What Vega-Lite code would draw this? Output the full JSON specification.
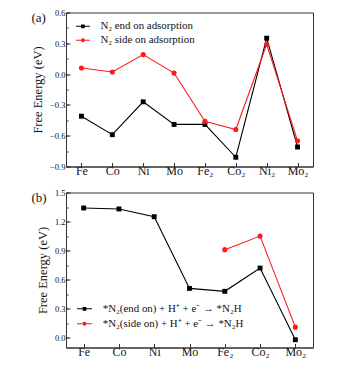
{
  "$schema": "https://vega.github.io/schema/vega-lite/v6.json",
  "padding": {"left": 30, "top": 7.5, "right": 10, "bottom": 5},
  "spacing": 10,
  "background": "white",
  "config": {
    "font": "Liberation Serif",
    "view": {"stroke": "#333333", "strokeWidth": 1},
    "axis": {"labelFont": "Liberation Serif", "titleFont": "Liberation Serif", "labelColor": "#111111", "titleColor": "#111111", "titleFontWeight": "normal", "domainColor": "#333333", "tickColor": "#333333", "domainWidth": 1, "tickWidth": 1},
    "legend": {"labelFont": "Liberation Serif", "labelColor": "#111111"}
  },
  "datasets": {
    "a": [
      {"metal": "Fe", "series": "N₂ end on adsorption", "energy": -0.41},
      {"metal": "Co", "series": "N₂ end on adsorption", "energy": -0.59},
      {"metal": "Ni", "series": "N₂ end on adsorption", "energy": -0.27},
      {"metal": "Mo", "series": "N₂ end on adsorption", "energy": -0.49},
      {"metal": "Fe₂", "series": "N₂ end on adsorption", "energy": -0.49},
      {"metal": "Co₂", "series": "N₂ end on adsorption", "energy": -0.81},
      {"metal": "Ni₂", "series": "N₂ end on adsorption", "energy": 0.35},
      {"metal": "Mo₂", "series": "N₂ end on adsorption", "energy": -0.71},
      {"metal": "Fe", "series": "N₂ side on adsorption", "energy": 0.06},
      {"metal": "Co", "series": "N₂ side on adsorption", "energy": 0.02},
      {"metal": "Ni", "series": "N₂ side on adsorption", "energy": 0.19},
      {"metal": "Mo", "series": "N₂ side on adsorption", "energy": 0.01},
      {"metal": "Fe₂", "series": "N₂ side on adsorption", "energy": -0.46},
      {"metal": "Co₂", "series": "N₂ side on adsorption", "energy": -0.54},
      {"metal": "Ni₂", "series": "N₂ side on adsorption", "energy": 0.29},
      {"metal": "Mo₂", "series": "N₂ side on adsorption", "energy": -0.65}
    ],
    "b": [
      {"metal": "Fe", "series": "*N₂(end on) + H⁺ + e⁻ → *N₂H", "energy": 1.34},
      {"metal": "Co", "series": "*N₂(end on) + H⁺ + e⁻ → *N₂H", "energy": 1.33},
      {"metal": "Ni", "series": "*N₂(end on) + H⁺ + e⁻ → *N₂H", "energy": 1.25},
      {"metal": "Mo", "series": "*N₂(end on) + H⁺ + e⁻ → *N₂H", "energy": 0.51},
      {"metal": "Fe₂", "series": "*N₂(end on) + H⁺ + e⁻ → *N₂H", "energy": 0.48},
      {"metal": "Co₂", "series": "*N₂(end on) + H⁺ + e⁻ → *N₂H", "energy": 0.72},
      {"metal": "Mo₂", "series": "*N₂(end on) + H⁺ + e⁻ → *N₂H", "energy": -0.02},
      {"metal": "Fe₂", "series": "*N₂(side on) + H⁺ + e⁻ → *N₂H", "energy": 0.91},
      {"metal": "Co₂", "series": "*N₂(side on) + H⁺ + e⁻ → *N₂H", "energy": 1.05},
      {"metal": "Mo₂", "series": "*N₂(side on) + H⁺ + e⁻ → *N₂H", "energy": 0.11}
    ]
  },
  "vconcat": [
    {
      "width": 247,
      "height": 154,
      "data": {"name": "a"},
      "encoding": {
        "y": {"field": "energy", "type": "quantitative", "scale": {"domain": [-0.9, 0.6], "nice": false, "zero": false},
          "axis": {"title": "Free Energy (eV)", "titleFontSize": 12.5, "labelFontSize": 8.5, "titlePadding": 5, "labelPadding": 3,
            "values": [-0.9, -0.75, -0.6, -0.45, -0.3, -0.15, 0, 0.15, 0.3, 0.45, 0.6],
            "labelExpr": "abs(round(datum.value*100) % 30) == 0 ? format(datum.value, '.1f') : ''",
            "tickSize": -2, "grid": true, "gridColor": "#333333", "gridDash": [4, 1000], "gridWidth": 1,
            "gridOpacity": {"condition": {"test": "abs(round(datum.value*100) % 30) == 0", "value": 1}, "value": 0}}},
        "color": {"field": "series", "type": "nominal", "scale": {"domain": ["N₂ end on adsorption", "N₂ side on adsorption"], "range": ["#000000", "#ff1a1a"]},
          "legend": {"title": null, "orient": "none", "legendX": 8.4, "legendY": 5.3, "padding": 0, "labelFontSize": 10.9, "labelOffset": 9, "rowPadding": 0, "symbolSize": 225,
            "encode": {"symbols": {"update": {
              "shape": [{"test": "indexof(datum.value, 'side') >= 0", "value": "M-0.93,0H0.93M0.19,0A0.19,0.19 0 1,1 -0.19,0A0.19,0.19 0 1,1 0.19,0Z"}, {"value": "M-0.93,0H0.93M-0.17,-0.17H0.17V0.17H-0.17Z"}],
              "fill": [{"test": "indexof(datum.value, 'side') >= 0", "value": "#ff1a1a"}, {"value": "#000000"}],
              "stroke": [{"test": "indexof(datum.value, 'side') >= 0", "value": "#ff1a1a"}, {"value": "#000000"}],
              "strokeWidth": {"value": 1.1},
              "opacity": {"value": 1}
            }}}}}
      },
      "layer": [
        {"mark": {"type": "line", "strokeWidth": 1.1},
          "encoding": {"x": {"field": "metal", "type": "ordinal", "sort": ["Fe", "Co", "Ni", "Mo", "Fe₂", "Co₂", "Ni₂", "Mo₂"], "scale": {"type": "point", "padding": 0.5},
            "axis": {"orient": "top", "title": "(a)", "domain": false, "ticks": false, "labels": false, "grid": false, "titleX": -35, "titleY": -1, "titleAlign": "left", "titleBaseline": "top", "titleAngle": 0, "titleFontSize": 13}}}},
        {"transform": [{"filter": "indexof(datum.series, 'end') >= 0"}], "mark": {"type": "square", "filled": true, "size": 24, "opacity": 1},
          "encoding": {"x": {"field": "metal", "type": "ordinal", "sort": ["Fe", "Co", "Ni", "Mo", "Fe₂", "Co₂", "Ni₂", "Mo₂"], "scale": {"type": "point", "padding": 0.5},
            "axis": {"orient": "bottom", "title": null, "labelAngle": 0, "labelFontSize": 12, "tickSize": -4, "labelPadding": 3, "grid": false}}}},
        {"transform": [{"filter": "indexof(datum.series, 'side') >= 0"}], "mark": {"type": "circle", "filled": true, "size": 26, "opacity": 1},
          "encoding": {"x": {"field": "metal", "type": "ordinal", "sort": ["Fe", "Co", "Ni", "Mo", "Fe₂", "Co₂", "Ni₂", "Mo₂"], "scale": {"type": "point", "padding": 0.5}, "axis": null}}}
      ],
      "resolve": {"axis": {"x": "independent"}}
    },
    {
      "width": 247,
      "height": 155,
      "data": {"name": "b"},
      "encoding": {
        "y": {"field": "energy", "type": "quantitative", "scale": {"domain": [-0.1, 1.5], "nice": false, "zero": false},
          "axis": {"title": "Free Energy (eV)", "titleFontSize": 12.5, "labelFontSize": 8.5, "titlePadding": 5, "labelPadding": 3,
            "values": [0, 0.15, 0.3, 0.45, 0.6, 0.75, 0.9, 1.05, 1.2, 1.35, 1.5],
            "labelExpr": "abs(round(datum.value*100) % 30) == 0 ? format(datum.value, '.1f') : ''",
            "tickSize": -2, "grid": true, "gridColor": "#333333", "gridDash": [4, 1000], "gridWidth": 1,
            "gridOpacity": {"condition": {"test": "abs(round(datum.value*100) % 30) == 0", "value": 1}, "value": 0}}},
        "color": {"field": "series", "type": "nominal", "scale": {"domain": ["*N₂(end on) + H⁺ + e⁻ → *N₂H", "*N₂(side on) + H⁺ + e⁻ → *N₂H"], "range": ["#000000", "#ff1a1a"]},
          "legend": {"title": null, "orient": "none", "legendX": 10, "legendY": 107.8, "padding": 0, "labelFontSize": 10.9, "labelOffset": 9.7, "rowPadding": 1, "symbolSize": 225,
            "encode": {"symbols": {"update": {
              "shape": [{"test": "indexof(datum.value, 'side') >= 0", "value": "M-1,0H1M0.19,0A0.19,0.19 0 1,1 -0.19,0A0.19,0.19 0 1,1 0.19,0Z"}, {"value": "M-1,0H1M-0.17,-0.17H0.17V0.17H-0.17Z"}],
              "fill": [{"test": "indexof(datum.value, 'side') >= 0", "value": "#ff1a1a"}, {"value": "#000000"}],
              "stroke": [{"test": "indexof(datum.value, 'side') >= 0", "value": "#ff1a1a"}, {"value": "#000000"}],
              "strokeWidth": {"value": 1.1},
              "opacity": {"value": 1}
            }}}}}
      },
      "layer": [
        {"mark": {"type": "line", "strokeWidth": 1.1},
          "encoding": {"x": {"field": "metal", "type": "ordinal", "sort": ["Fe", "Co", "Ni", "Mo", "Fe₂", "Co₂", "Mo₂"], "scale": {"type": "point", "padding": 0.5},
            "axis": {"orient": "top", "title": "(b)", "domain": false, "ticks": false, "labels": false, "grid": false, "titleX": -35, "titleY": -1, "titleAlign": "left", "titleBaseline": "top", "titleAngle": 0, "titleFontSize": 13}}}},
        {"transform": [{"filter": "indexof(datum.series, 'end') >= 0"}], "mark": {"type": "square", "filled": true, "size": 24, "opacity": 1},
          "encoding": {"x": {"field": "metal", "type": "ordinal", "sort": ["Fe", "Co", "Ni", "Mo", "Fe₂", "Co₂", "Mo₂"], "scale": {"type": "point", "padding": 0.5},
            "axis": {"orient": "bottom", "title": null, "labelAngle": 0, "labelFontSize": 12, "tickSize": -4, "labelPadding": 3, "grid": false}}}},
        {"transform": [{"filter": "indexof(datum.series, 'side') >= 0"}], "mark": {"type": "circle", "filled": true, "size": 26, "opacity": 1},
          "encoding": {"x": {"field": "metal", "type": "ordinal", "sort": ["Fe", "Co", "Ni", "Mo", "Fe₂", "Co₂", "Mo₂"], "scale": {"type": "point", "padding": 0.5}, "axis": null}}}
      ],
      "resolve": {"axis": {"x": "independent"}}
    }
  ],
  "resolve": {"scale": {"color": "independent"}, "legend": {"color": "independent"}}
}
